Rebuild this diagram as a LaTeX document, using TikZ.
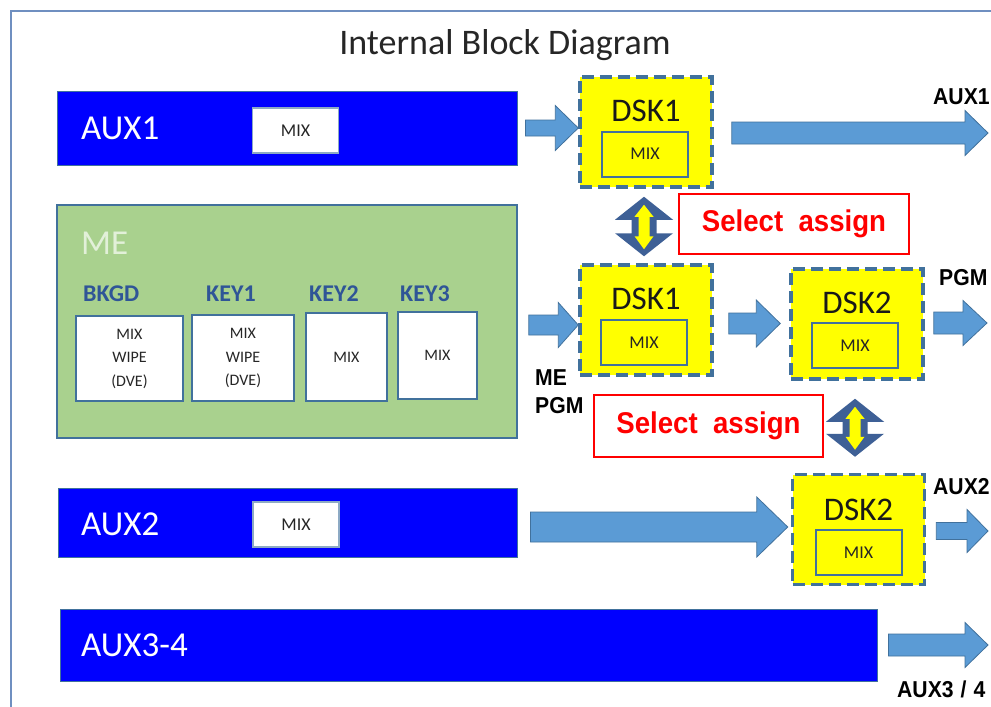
\documentclass[tikz,border=0pt]{standalone}
\usepackage{fontspec}
\setmainfont{Carlito}
\newfontfamily\gothic[FakeStretch=0.92]{Liberation Sans}
\usetikzlibrary{calc}
\definecolor{frameblue}{HTML}{6F8FC0}
\definecolor{steel}{HTML}{41719C}
\definecolor{darksteel}{HTML}{3E6096}
\definecolor{barblue}{HTML}{0000FF}
\definecolor{megreen}{HTML}{A9D18E}
\definecolor{metext}{HTML}{E2F0D9}
\definecolor{keyblue}{HTML}{2F5597}
\definecolor{arrowblue}{HTML}{5B9BD5}
\definecolor{dskyellow}{HTML}{FFFF00}
\definecolor{selred}{HTML}{FF0000}
\definecolor{titlegray}{HTML}{262626}
\newcommand\blockarrow[5]{%
  \path[blockarr] let \p1=#1, \p2=#2 in
    (\x1,\y1+#3) -- (\x2-#5,\y1+#3) -- (\x2-#5,\y1+#4) -- (\x2,\y1)
    -- (\x2-#5,\y1-#4) -- (\x2-#5,\y1-#3) -- (\x1,\y1-#3) -- cycle;}
\newcommand\dblarrow[2]{%
  \path[dblouter] let \p1=#1, \p2=#2 in
    (\x1,\y1) -- (\x1+29,\y1-23) -- (\x1+12.5,\y1-23) -- (\x1+12.5,\y2+23)
    -- (\x1+29,\y2+23) -- (\x1,\y2) -- (\x1-29,\y2+23) -- (\x1-12.5,\y2+23)
    -- (\x1-12.5,\y1-23) -- (\x1-29,\y1-23) -- cycle;
  \path[dblinner] let \p1=#1, \p2=#2 in
    (\x1,\y1-8) -- (\x1+9.5,\y1-20) -- (\x1+5.5,\y1-20) -- (\x1+5.5,\y2+20)
    -- (\x1+9.5,\y2+20) -- (\x1,\y2+7) -- (\x1-9.5,\y2+20) -- (\x1-5.5,\y2+20)
    -- (\x1-5.5,\y1-20) -- (\x1-9.5,\y1-20) -- cycle;}
\begin{document}
\begin{tikzpicture}[x=1pt,y=-1pt,
  auxbar/.style={draw=steel, line width=1pt, fill=barblue, inner sep=0pt},
  auxtxt/.style={text=white, font=\fontsize{35}{40}\selectfont, anchor=west, inner sep=0pt},
  mixbox/.style={draw=steel!60, line width=1.5pt, fill=white, inner sep=0pt, minimum width=86pt, minimum height=45pt, font=\fontsize{18}{22}\selectfont, text=black!85},
  mebox/.style={draw=steel, line width=1.5pt, fill=megreen, inner sep=0pt},
  metxt/.style={text=metext, font=\fontsize{35}{40}\selectfont, anchor=west, inner sep=0pt},
  keylbl/.style={text=keyblue, font=\bfseries\fontsize{24}{28}\selectfont, anchor=west, inner sep=0pt},
  keybox/.style={draw=steel, line width=2pt, fill=white, inner sep=0pt, align=center, font=\fontsize{16}{23.5}\selectfont, text=black!85},
  dskbox/.style={draw=steel, line width=3.5pt, dash pattern=on 12pt off 6pt, fill=dskyellow, inner sep=0pt, minimum width=132pt, minimum height=110pt},
  dsktxt/.style={font=\fontsize{33}{36}\selectfont, inner sep=0pt, text=black!90},
  dskmix/.style={draw=steel, line width=2pt, fill=dskyellow, inner sep=0pt, minimum width=86pt, minimum height=45pt, font=\fontsize{18}{22}\selectfont, text=black!85},
  selbox/.style={draw=selred, line width=2pt, fill=white, text=selred, font=\gothic\bfseries\fontsize{30}{36}\selectfont, inner sep=0pt},
  outlbl/.style={font=\gothic\bfseries\fontsize{23}{27}\selectfont, anchor=west, inner sep=0pt, align=left},
  blockarr/.style={fill=arrowblue, draw=steel, line width=0.8pt},
  dblouter/.style={fill=darksteel},
  dblinner/.style={fill=dskyellow}]
\useasboundingbox (0,0) rectangle (991,707);
\fill[white] (0,0) rectangle (991,707);
% frame
\draw[frameblue, line width=2pt] (11,707) -- (11,11) -- (991,11);
% title
\node[font=\fontsize{36}{40}\selectfont, text=titlegray, inner sep=0pt] (title) at (505,45) {Internal Block Diagram};
% AUX1
\node[auxbar, minimum width=460pt, minimum height=74pt] (aux1) at (287,128) {};
\node[auxtxt] (aux1t) at (81,128) {AUX1};
\node[mixbox] (aux1m) at (295.5,130.5) {MIX};
% ME
\node[mebox, minimum width=460pt, minimum height=233pt] (me) at (287,321.5) {};
\node[metxt] (met) at (81,243) {ME};
\node[keylbl] (lbkgd) at (83,294) {BKGD};
\node[keylbl] (lkey1) at (206,294) {KEY1};
\node[keylbl] (lkey2) at (309,294) {KEY2};
\node[keylbl] (lkey3) at (400,294) {KEY3};
\node[keybox, minimum width=107pt, minimum height=85pt] (bkgd) at (129.5,358.5) {MIX\\WIPE\\(DVE)};
\node[keybox, minimum width=102pt, minimum height=86pt] (key1) at (243,358) {MIX\\WIPE\\(DVE)};
\node[keybox, minimum width=81pt, minimum height=88pt] (key2) at (346.5,357) {MIX};
\node[keybox, minimum width=79pt, minimum height=87pt] (key3) at (437.5,355.5) {MIX};
% AUX2
\node[auxbar, minimum width=459pt, minimum height=69pt] (aux2) at (287.5,522.5) {};
\node[auxtxt] (aux2t) at (81,524) {AUX2};
\node[mixbox] (aux2m) at (296,524.5) {MIX};
% AUX3-4
\node[auxbar, minimum width=817pt, minimum height=72pt] (aux34) at (468.5,645) {};
\node[auxtxt] (aux34t) at (81,645) {AUX3-4};
% DSK blocks
\node[dskbox] (dsk1a) at (646,132) {};
\node[dsktxt] at ($(dsk1a)+(0,-21)$) {DSK1};
\node[dskmix] (dsk1am) at ($(dsk1a)+(-1,22)$) {MIX};
\node[dskbox] (dsk1b) at (646,320) {};
\node[dsktxt] at ($(dsk1b)+(0,-21)$) {DSK1};
\node[dskmix] (dsk1bm) at ($(dsk1b)+(-2,22.5)$) {MIX};
\node[dskbox] (dsk2a) at (857,324) {};
\node[dsktxt] at ($(dsk2a)+(0,-21)$) {DSK2};
\node[dskmix] (dsk2am) at ($(dsk2a)+(-2,21.5)$) {MIX};
\node[dskbox] (dsk2b) at (858.5,529.5) {};
\node[dsktxt] at ($(dsk2b)+(0,-20)$) {DSK2};
\node[dskmix] (dsk2bm) at ($(dsk2b)+(0,23)$) {MIX};
% select assign
\node[selbox, minimum width=230pt, minimum height=60pt] (sel1) at (794,224) {Select\ \ assign};
\node[selbox, minimum width=229pt, minimum height=62pt] (sel2) at (708.5,426) {Select\ \ assign};
% output labels
\node[outlbl] (lout1) at (933,97) {AUX1};
\node[outlbl] (lpgm) at (939,278) {PGM};
\node[outlbl, anchor=north west, font=\gothic\bfseries\fontsize{23}{28}\selectfont] (lmepgm) at (535,369) {ME\\PGM};
\node[outlbl] (lout2) at (933,487) {AUX2};
\node[outlbl] (lout34) at (897,689) {AUX3\kern7pt/\kern7pt4};
% free ends
\coordinate (o1) at (988,133);
\coordinate (o2) at (987,323);
\coordinate (o3) at (988,531);
\coordinate (o4) at (988,645);
% block arrows
\blockarrow{($(aux1.east)+(8,0)$)}{(dsk1a.west)}{8}{22.5}{23}
\blockarrow{($(dsk1a.east)+(18,1)$)}{(o1)}{11}{22.5}{23}
\blockarrow{($(me.east)+(11,3.5)$)}{(dsk1b.west)}{10}{22.5}{20}
\blockarrow{($(dsk1b.east)+(15,3.5)$)}{($(dsk2a.west)+(-9,0)$)}{10.5}{23.5}{24}
\blockarrow{($(dsk2a.east)+(9,-1)$)}{(o2)}{11}{22.5}{24}
\blockarrow{($(aux2.east)+(13,4.5)$)}{($(dsk2b.west)+(-3,0)$)}{15}{30}{31}
\blockarrow{($(dsk2b.east)+(10,1.5)$)}{(o3)}{8.5}{21.5}{21}
\blockarrow{($(aux34.east)+(11,0)$)}{(o4)}{11}{22.5}{23}
% double arrows
\dblarrow{($(dsk1a.south)+(-2,8)$)}{($(dsk1b.north)+(-2,-7)$)}
\dblarrow{($(dsk2a.south)+(-2,18)$)}{($(dsk2b.north)+(-3.5,-16)$)}
\end{tikzpicture}
\end{document}
